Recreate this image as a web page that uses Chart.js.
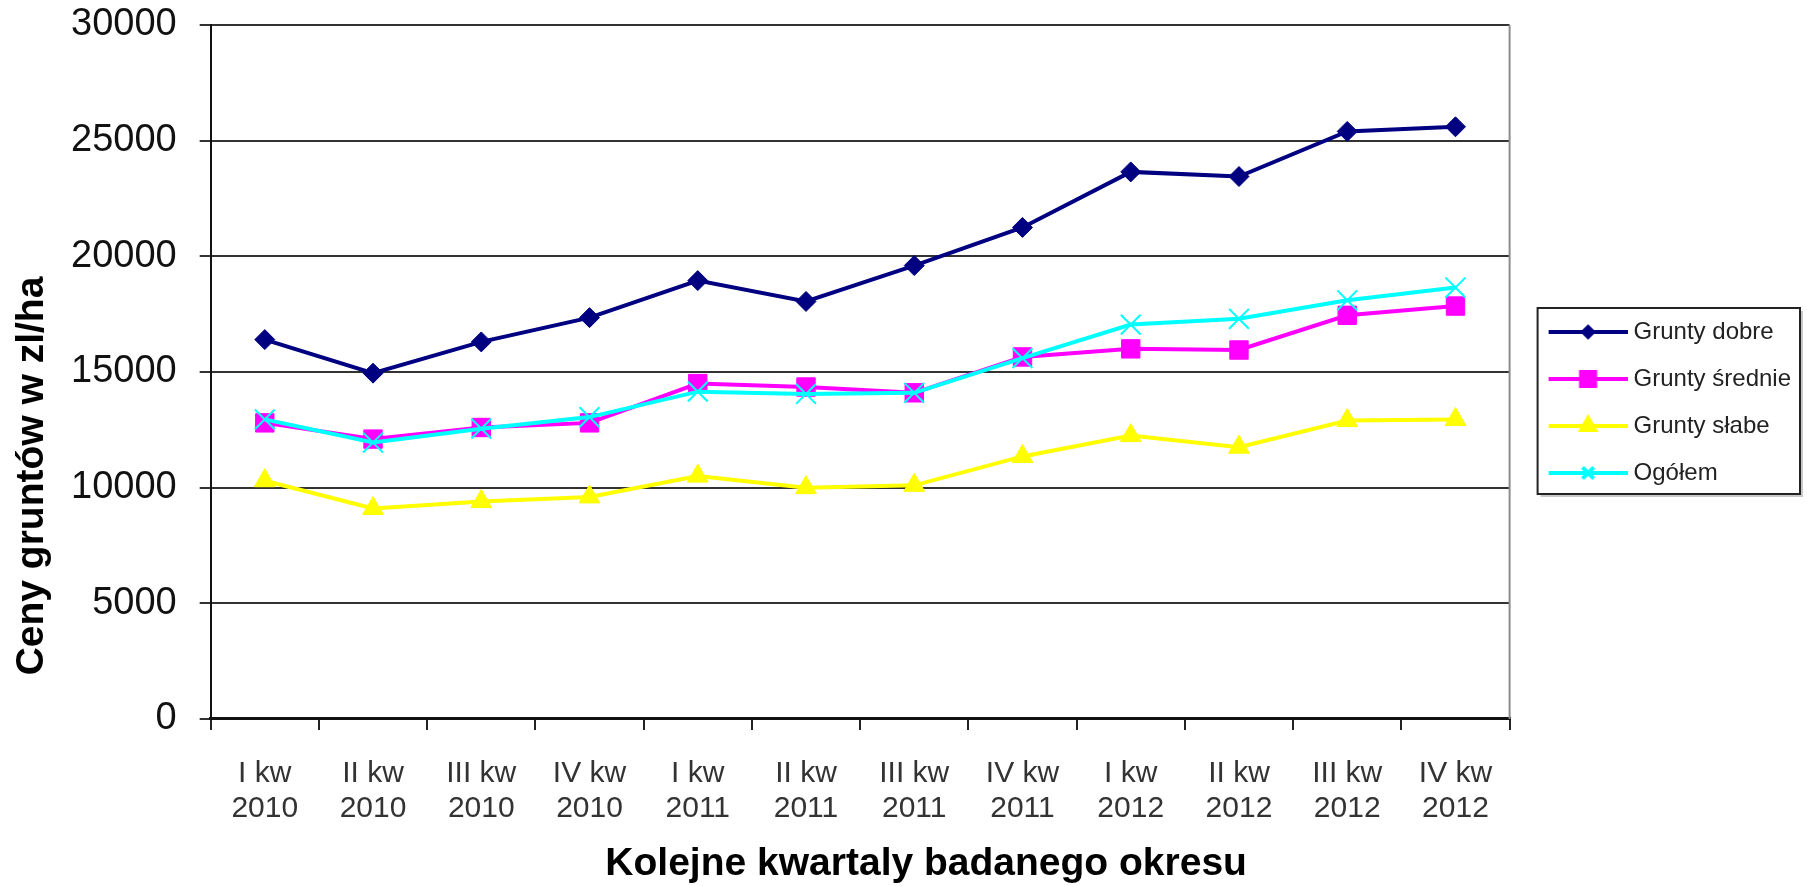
<!DOCTYPE html>
<html>
<head>
<meta charset="utf-8">
<script src="https://cdn.jsdelivr.net/npm/chart.js"></script>
<style>
    html, body { margin: 0; padding: 0; background: #fff; }
    #wrap { width: 1807px; height: 886px; position: relative; }
</style>
</head>
<body>
<div id="wrap"><canvas id="chart"></canvas></div>
<script>
const FONT = '"Liberation Sans", Arial, sans-serif';

// Quarters shown on the x axis (two lines per label)
const quarters = [
    ['I kw', '2010'], ['II kw', '2010'], ['III kw', '2010'], ['IV kw', '2010'],
    ['I kw', '2011'], ['II kw', '2011'], ['III kw', '2011'], ['IV kw', '2011'],
    ['I kw', '2012'], ['II kw', '2012'], ['III kw', '2012'], ['IV kw', '2012'],
];

// Land prices in zl/ha
const gruntyDobre   = [16400, 14950, 16300, 17350, 18950, 18050, 19600, 21250, 23650, 23450, 25400, 25600];
const gruntySrednie = [12800, 12100, 12600, 12800, 14500, 14350, 14100, 15650, 16000, 15950, 17450, 17850];
const gruntySlabe   = [10300,  9100,  9400,  9600, 10500, 10000, 10100, 11350, 12250, 11750, 12900, 12950];
const ogolem        = [12950, 11950, 12550, 13050, 14150, 14050, 14100, 15600, 17050, 17300, 18100, 18650];

const yTitle = 'Ceny gruntów w zl/ha';
const xTitle = 'Kolejne kwartaly badanego okresu';

// line + marker sample used as the legend symbol
function legendSymbol(color, style, radius) {
    const c = document.createElement('canvas');
    c.width = 101;
    c.height = 26;
    const g = c.getContext('2d');
    g.strokeStyle = color;
    g.lineWidth = 4;
    g.beginPath();
    g.moveTo(22, 13);
    g.lineTo(101, 13);
    g.stroke();
    const opts = { pointStyle: style, radius: radius, rotation: 0, borderWidth: 1 };
    g.fillStyle = color;
    g.strokeStyle = color;
    if (Chart.helpers && Chart.helpers.drawPoint) {
        Chart.helpers.drawPoint(g, opts, 61.5, 13);
    }
    return c;
}

const symbols = [
    legendSymbol('#000080', 'rectRot', 5),
    legendSymbol('#ff00ff', 'rect', 10),
    legendSymbol('#ffff00', 'triangle', 8),
    legendSymbol('#00ffff', 'crossRot', 8),
];

// axis titles, plot frame on the right, legend border
const decorations = {
    id: 'decorations',
    afterDraw(chart) {
        const { ctx, chartArea: a, legend } = chart;
        ctx.save();

        ctx.strokeStyle = '#8c8c8c';
        ctx.lineWidth = 2;
        ctx.beginPath();
        ctx.moveTo(a.right, a.top);
        ctx.lineTo(a.right, a.bottom);
        ctx.stroke();

        const hb = legend.legendHitBoxes;
        if (hb && hb.length) {
            const l = hb[0].left + 5;
            const t = hb[0].top - 12;
            const r = Math.max(...hb.map(h => h.left + h.width)) + 9;
            const b = hb[hb.length - 1].top + hb[hb.length - 1].height + 9;
            ctx.strokeStyle = '#c8c8c8';
            ctx.lineWidth = 2;
            ctx.beginPath();
            ctx.moveTo(l + 3, b + 2);
            ctx.lineTo(r + 2, b + 2);
            ctx.lineTo(r + 2, t + 3);
            ctx.stroke();
            ctx.strokeStyle = '#222';
            ctx.lineWidth = 2;
            ctx.strokeRect(l, t, r - l, b - t);
        }

        ctx.fillStyle = '#000';
        ctx.font = 'bold 39px ' + FONT;
        ctx.textAlign = 'center';
        ctx.textBaseline = 'middle';
        ctx.fillText(xTitle, (a.left + a.right) / 2 + 66, 864);
        ctx.translate(32, (a.top + a.bottom) / 2 + 104);
        ctx.rotate(-Math.PI / 2);
        ctx.fillText(yTitle, 0, 0);
        ctx.restore();
    }
};

const chart = new Chart(
    document.getElementById('chart'),
    {
        type: 'line',
        data: {
            labels: quarters,
            datasets: [
                {
                    label: 'Grunty dobre',
                    data: gruntyDobre,
                    borderColor: '#000080',
                    backgroundColor: '#000080',
                    borderWidth: 4,
                    pointStyle: 'rectRot',
                    pointRadius: 10,
                    pointBorderWidth: 1,
                    tension: 0,
                    order: 3,
                },
                {
                    label: 'Grunty średnie',
                    data: gruntySrednie,
                    borderColor: '#ff00ff',
                    backgroundColor: '#ff00ff',
                    borderWidth: 4,
                    pointStyle: 'rect',
                    pointRadius: 13,
                    pointBorderWidth: 1,
                    tension: 0,
                    order: 2,
                },
                {
                    label: 'Grunty słabe',
                    data: gruntySlabe,
                    borderColor: '#ffff00',
                    backgroundColor: '#ffff00',
                    borderWidth: 4,
                    pointStyle: 'triangle',
                    pointRadius: 12,
                    pointBorderWidth: 1,
                    tension: 0,
                    order: 1,
                },
                {
                    label: 'Ogółem',
                    data: ogolem,
                    borderColor: '#00ffff',
                    backgroundColor: '#00ffff',
                    borderWidth: 4,
                    pointStyle: 'crossRot',
                    pointRadius: 14,
                    pointBorderWidth: 2,
                    tension: 0,
                    order: 0,
                },
            ]
        },
        options: {
            responsive: true,
            maintainAspectRatio: false,
            animation: false,
            layout: {
                padding: { left: 48, right: 6, top: 25, bottom: 34 },
            },
            scales: {
                x: {
                    type: 'category',
                    offset: true,
                    grid: {
                        offset: true,
                        drawOnChartArea: false,
                        tickLength: 11,
                        tickColor: '#222',
                        lineWidth: 2,
                    },
                    border: { color: '#111', width: 3 },
                    ticks: {
                        color: '#333',
                        padding: 26,
                        maxRotation: 0,
                        autoSkip: false,
                        font: { family: FONT, size: 30, lineHeight: 1.167 },
                    },
                },
                y: {
                    min: 0,
                    max: 30000,
                    grid: {
                        color: '#333',
                        lineWidth: 2,
                        tickLength: 11,
                    },
                    border: { color: '#111', width: 2 },
                    ticks: {
                        stepSize: 5000,
                        color: '#111',
                        padding: 23,
                        // tiny line height so the top label does not push the plot down
                        font: { family: FONT, size: 38, lineHeight: 0.05 },
                        callback: (v) => String(v),
                    },
                },
            },
            plugins: {
                tooltip: { enabled: false },
                legend: {
                    position: 'right',
                    fullSize: false,
                    title: {
                        display: true,
                        text: '',
                        font: { size: 10, lineHeight: 1 },
                        padding: { top: 51, bottom: 0 },
                    },
                    labels: {
                        usePointStyle: true,
                        pointStyleWidth: 89,
                        padding: 23,
                        color: '#222',
                        font: { family: FONT, size: 24 },
                        sort: (a, b) => a.datasetIndex - b.datasetIndex,
                        generateLabels: (c) => {
                            const items = Chart.defaults.plugins.legend.labels.generateLabels(c);
                            items.forEach(it => { it.pointStyle = symbols[it.datasetIndex]; });
                            return items;
                        },
                    },
                },
            },
        },
        plugins: [decorations],
    }
);
</script>
</body>
</html>
